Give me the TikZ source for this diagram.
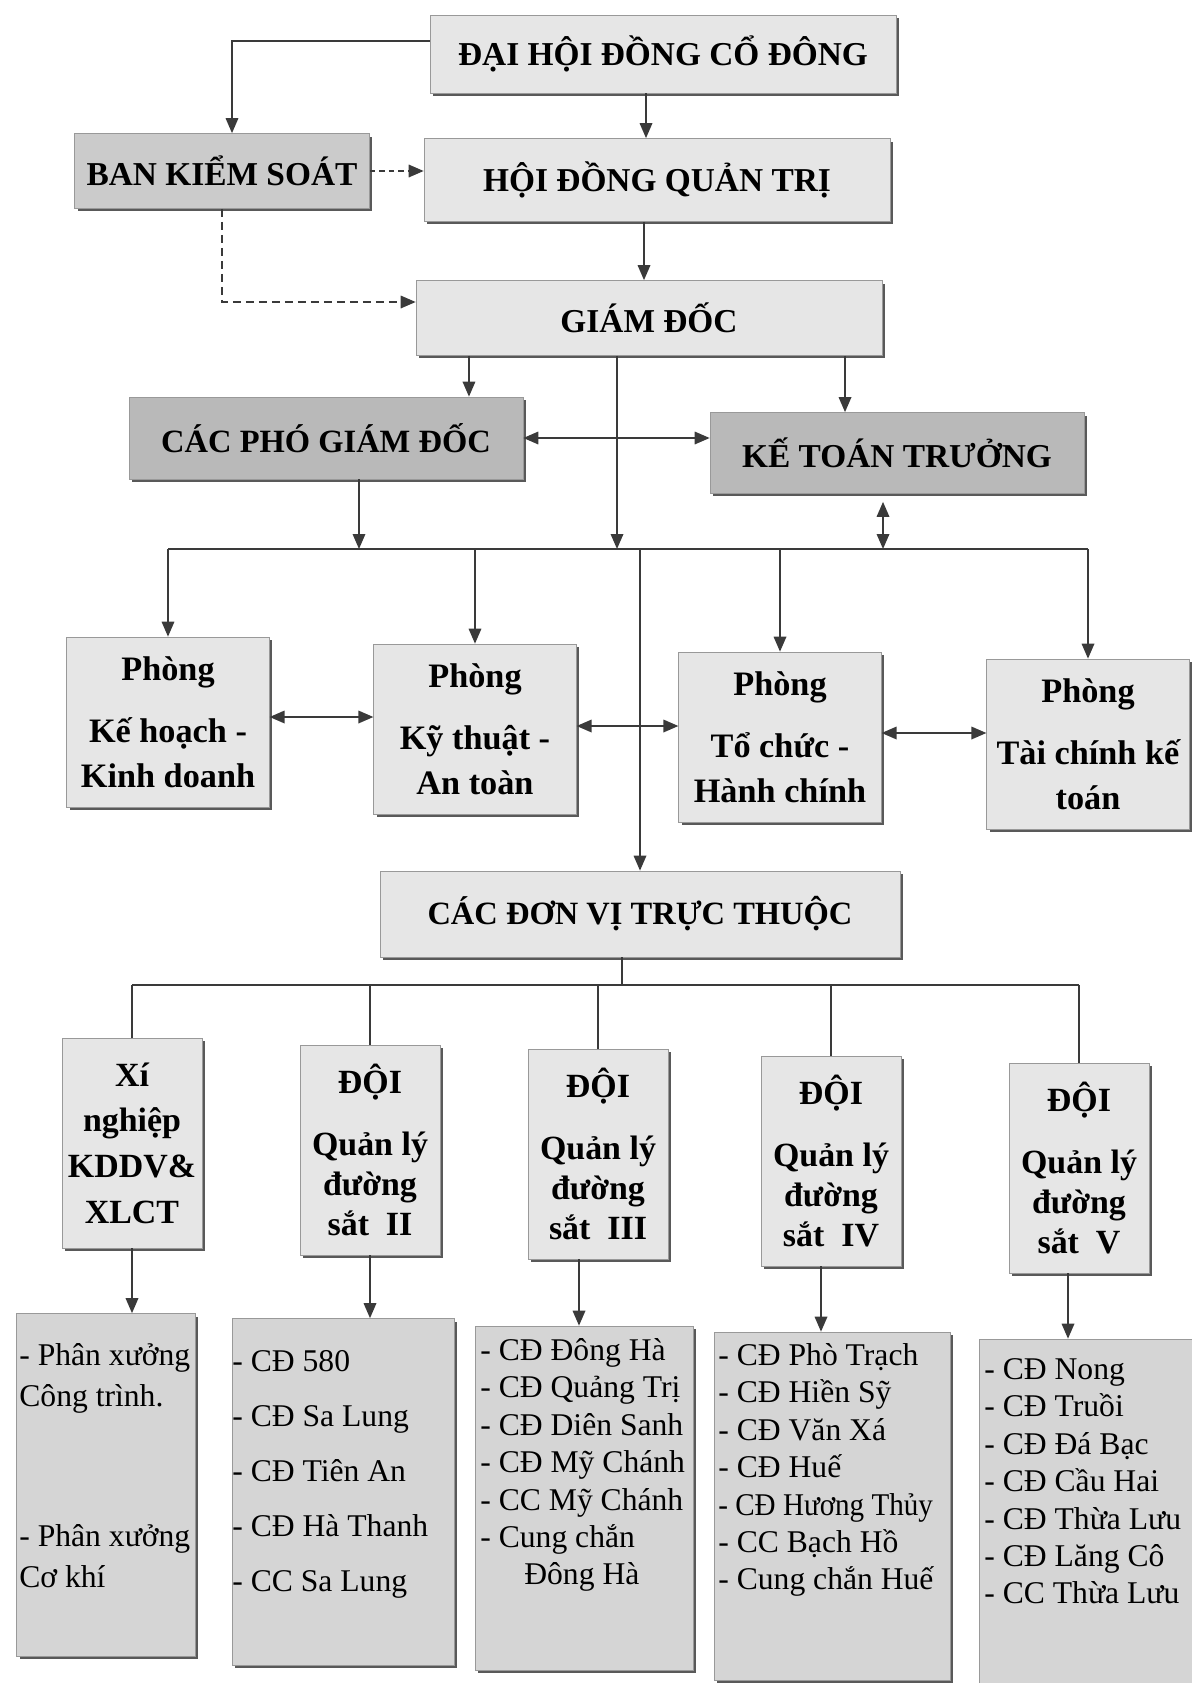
\documentclass[tikz,border=0pt]{standalone}
\usepackage{fontspec}
\usepackage{graphicx}
\setmainfont{Liberation Serif}
\usetikzlibrary{arrows.meta, shadows}

\definecolor{boxlight}{HTML}{E6E6E6}
\definecolor{boxmid}{HTML}{CBCBCB}
\definecolor{boxdark}{HTML}{B9B9B9}
\definecolor{boxlist}{HTML}{D5D5D5}
\definecolor{linegray}{HTML}{3A3A3A}

\begin{document}
\begin{tikzpicture}[
    x=0.02cm, y=-0.02cm,
    box/.style={rectangle, draw=black!40, line width=0.4pt, fill=boxlight, align=center,
                inner sep=0pt, font=\fontsize{19}{23}\selectfont\bfseries,
                drop shadow={shadow xshift=0.6mm, shadow yshift=-0.6mm, fill=black!65, opacity=1}},
    topbox/.style={box, minimum width=9.32cm, minimum height=1.56cm},
    phong/.style={box, minimum width=4.05cm, minimum height=3.4cm,
                  font=\fontsize{19.5}{25.6}\selectfont\bfseries},
    doi/.style={box, minimum width=2.8cm, minimum height=4.2cm,
                font=\fontsize{19.3}{22.7}\selectfont\bfseries},
    listbox/.style={box, fill=boxlist},
    list/.style={anchor=north west, align=left, inner sep=0pt, font=\fontsize{18}{21.3}\selectfont},
    arrow/.style={-{Triangle[length=3mm, width=2.5mm]}, line width=1pt, draw=linegray},
    biarrow/.style={{Triangle[length=3mm, width=2.5mm]}-{Triangle[length=3mm, width=2.5mm]},
                    line width=1pt, draw=linegray},
    line/.style={line width=1pt, draw=linegray},
    dasharrow/.style={arrow, dash pattern=on 1.6mm off 1mm}
]
    \useasboundingbox (0,0) rectangle (1191,1683);

    % Top management
    \node[topbox] (dhcd) at (663,54) {ĐẠI HỘI ĐỒNG CỔ ĐÔNG};
    \node[box, fill=boxmid, minimum width=5.9cm, minimum height=1.5cm] (bks) at (222,171) {BAN KIỂM SOÁT};
    \node[topbox, minimum height=1.66cm] (hdqt) at (657,180) {HỘI ĐỒNG QUẢN TRỊ};
    \node[topbox, minimum height=1.5cm] (gd) at (649,318) {GIÁM ĐỐC};
    \node[box, fill=boxdark, minimum width=7.88cm, minimum height=1.64cm,
          font=\fontsize{18.5}{23}\selectfont\bfseries] (cpgd) at (326,438) {CÁC PHÓ GIÁM ĐỐC};
    \node[box, fill=boxdark, minimum width=7.48cm, minimum height=1.62cm] (ktt) at (897,453) {KẾ TOÁN TRƯỞNG};

    % Departments
    \node[phong] (pkh) at (168,722) {Phòng\\[0.34cm]Kế hoạch -\\Kinh doanh};
    \node[phong] (pkt) at (475,729) {Phòng\\[0.34cm]Kỹ thuật -\\An toàn};
    \node[phong] (ptc) at (780,737) {Phòng\\[0.34cm]Tổ chức -\\Hành chính};
    \node[phong] (ptk) at (1088,744) {Phòng\\[0.34cm]Tài chính kế\\toán};

    % Subordinate units
    \node[box, minimum width=10.4cm, minimum height=1.72cm,
          font=\fontsize{18.5}{23}\selectfont\bfseries] (cdv) at (640,914) {CÁC ĐƠN VỊ TRỰC THUỘC};

    \node[doi, font=\fontsize{19.3}{26}\selectfont\bfseries] (xn) at (132,1143) {Xí\\nghiệp\\KDDV\&\\XLCT};
    \node[doi] (d2) at (370,1150) {ĐỘI\\[0.44cm]Quản lý\\đường\\sắt\enspace II};
    \node[doi] (d3) at (598,1154) {ĐỘI\\[0.44cm]Quản lý\\đường\\sắt\enspace III};
    \node[doi] (d4) at (831,1161) {ĐỘI\\[0.44cm]Quản lý\\đường\\sắt\enspace IV};
    \node[doi] (d5) at (1079,1168) {ĐỘI\\[0.44cm]Quản lý\\đường\\sắt\enspace V};

    % Lists
    \node[listbox, minimum width=3.58cm, minimum height=6.86cm] (b1) at (106,1485) {};
    \node[listbox, minimum width=4.44cm, minimum height=6.94cm] (b2) at (343,1492) {};
    \node[listbox, minimum width=4.36cm, minimum height=6.88cm] (b3) at (584,1498) {};
    \node[listbox, minimum width=4.72cm, minimum height=6.96cm] (b4) at (832,1506) {};
    \node[listbox, minimum width=4.3cm, minimum height=7.12cm] (b5) at (1087,1517) {};

    \node[list, font=\fontsize{18}{23.3}\selectfont] (t1) at (19,1343)
        {- Phân xưởng\\Công trình.\\[1.98cm]- Phân xưởng\\Cơ khí};
    \node[list, font=\fontsize{18}{31.3}\selectfont] (t2) at (232,1350)
        {- CĐ 580\\- CĐ Sa Lung\\- CĐ Tiên An\\- CĐ Hà Thanh\\- CC Sa Lung};
    \node[list] (t3) at (480,1338)
        {- CĐ Đông Hà\\- CĐ Quảng Trị\\- CĐ Diên Sanh\\- CĐ Mỹ Chánh\\- CC Mỹ Chánh\\- Cung chắn\\\hspace*{0.88cm}Đông Hà};
    \node[list] (t4) at (718,1343)
        {- CĐ Phò Trạch\\- CĐ Hiền Sỹ\\- CĐ Văn Xá\\- CĐ Huế\\\scalebox{0.92}[1]{- CĐ Hương Thủy}\\- CC Bạch Hồ\\- Cung chắn Huế};
    \node[list] (t5) at (984,1358)
        {- CĐ Nong\\- CĐ Truồi\\- CĐ Đá Bạc\\- CĐ Cầu Hai\\- CĐ Thừa Lưu\\- CĐ Lăng Cô\\- CC Thừa Lưu};

    % Top arrows
    \draw[arrow] ([yshift=0.26cm]dhcd.west) -| ([xshift=0.2cm]bks.north);
    \draw[arrow] ([xshift=-0.34cm]dhcd.south) -- ([xshift=-0.34cm]dhcd.south |- hdqt.north);
    \draw[dasharrow, dash pattern=on 1.1mm off 0.8mm] (bks.east) -- (bks.east -| hdqt.west);
    \draw[dasharrow] (bks.south) |- ([yshift=0.32cm]gd.west);
    \draw[arrow] ([xshift=-0.26cm]hdqt.south) -- ([xshift=-0.26cm]hdqt.south |- gd.north);
    \draw[arrow] ([xshift=2.86cm]cpgd.north |- gd.south) -- ([xshift=2.86cm]cpgd.north);
    \draw[arrow] ([xshift=-1.04cm]ktt.north |- gd.south) -- ([xshift=-1.04cm]ktt.north);
    \draw[biarrow] (cpgd.east) -- (cpgd.east -| ktt.west);

    % Bus to departments
    \coordinate (bus1) at (640,549);
    \draw[line] (pkh.north |- bus1) -- (ptk.north |- bus1);
    \draw[arrow] ([xshift=0.66cm]cpgd.south) -- ([xshift=0.66cm]cpgd.south |- bus1);
    \draw[arrow] ([xshift=-0.64cm]gd.south) -- ([xshift=-0.64cm]gd.south |- bus1);
    \draw[biarrow, shorten <=0.16cm] ([xshift=-0.28cm]ktt.south) -- ([xshift=-0.28cm]ktt.south |- bus1);
    \foreach \p in {pkh, pkt, ptc, ptk}
        \draw[arrow] (\p.north |- bus1) -- (\p.north);
    \draw[biarrow] ([yshift=0.1cm]pkh.east) -- ([yshift=0.1cm]pkh.east -| pkt.west);
    \draw[biarrow] ([yshift=0.06cm]pkt.east) -- ([yshift=0.06cm]pkt.east -| ptc.west);
    \draw[biarrow] ([yshift=0.08cm]ptc.east) -- ([yshift=0.08cm]ptc.east -| ptk.west);
    \draw[arrow] (cdv.north |- bus1) -- (cdv.north);

    % Bus to units
    \coordinate (bus2) at (620,985);
    \draw[line] ([xshift=-0.36cm]cdv.south) -- ([xshift=-0.36cm]cdv.south |- bus2);
    \draw[line] (xn.north |- bus2) -- (d5.north |- bus2);
    \foreach \d in {xn, d2, d3, d4, d5}
        \draw[line] (\d.north |- bus2) -- (\d.north);

    % Units to lists
    \draw[arrow] (xn.south) -- (xn.south |- b1.north);
    \draw[arrow] (d2.south) -- (d2.south |- b2.north);
    \draw[arrow] ([xshift=-0.38cm]d3.south) -- ([xshift=-0.38cm]d3.south |- b3.north);
    \draw[arrow] ([xshift=-0.2cm]d4.south) -- ([xshift=-0.2cm]d4.south |- b4.north);
    \draw[arrow] ([xshift=-0.22cm]d5.south) -- ([xshift=-0.22cm]d5.south |- b5.north);

\end{tikzpicture}
\end{document}
